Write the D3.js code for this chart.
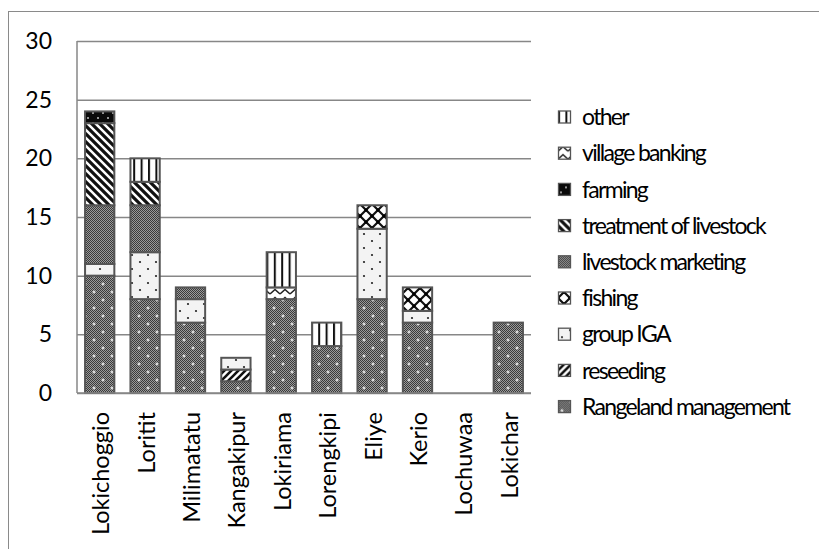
<!DOCTYPE html>
<html>
<head>
<meta charset="utf-8">
<script src="https://cdn.jsdelivr.net/npm/d3@7"></script>
<style>
  html, body { margin: 0; padding: 0; background: #fff; }
  svg { display: block; }
  text { font-family: Lato, "Liberation Sans", sans-serif; fill: #000; }
</style>
</head>
<body>
<svg id="chart" width="819" height="549"></svg>
<script>
// Locations along the x axis
const categories = ["Lokichoggio", "Loritit", "Milimatatu", "Kangakipur", "Lokiriama",
                    "Lorengkipi", "Eliye", "Kerio", "Lochuwaa", "Lokichar"];

// Number of activities per location, one array per activity type
const rangelandManagement = [10, 8, 6, 1, 8, 4, 8, 6, 0, 6];
const reseeding           = [0, 0, 0, 1, 0, 0, 0, 0, 0, 0];
const groupIGA            = [1, 4, 2, 1, 0, 0, 6, 1, 0, 0];
const fishing             = [0, 0, 0, 0, 0, 0, 2, 2, 0, 0];
const livestockMarketing  = [5, 4, 1, 0, 0, 0, 0, 0, 0, 0];
const treatmentOfLivestock= [7, 2, 0, 0, 0, 0, 0, 0, 0, 0];
const farming             = [1, 0, 0, 0, 0, 0, 0, 0, 0, 0];
const villageBanking      = [0, 0, 0, 0, 1, 0, 0, 0, 0, 0];
const other               = [0, 2, 0, 0, 3, 2, 0, 0, 0, 0];

// Stacking order, bottom to top
const seriesNames = ["Rangeland management", "reseeding", "group IGA", "fishing",
                     "livestock marketing", "treatment of livestock", "farming",
                     "village banking", "other"];
const seriesValues = [rangelandManagement, reseeding, groupIGA, fishing, livestockMarketing,
                      treatmentOfLivestock, farming, villageBanking, other];

const yTicks = [0, 5, 10, 15, 20, 25, 30];

// ---------------------------------------------------------------
const svg = d3.select("#chart");
const W = 819, H = 549;
const plot = { left: 77, right: 531, top: 41, bottom: 393 };
const outline = "#555555";
const gridColor = "#878787";

// Hatch fills
const defs = svg.append("defs");

function pattern(id, w, h) {
  return defs.append("pattern").attr("id", id)
    .attr("patternUnits", "userSpaceOnUse").attr("width", w).attr("height", h);
}

// fine 50% checker used as a grey tone
const chk = pattern("checker", 2, 2);
chk.append("rect").attr("width", 2).attr("height", 2).attr("fill", "#9a9a9a");
chk.append("rect").attr("width", 1).attr("height", 1).attr("fill", "#3a3a3a");
chk.append("rect").attr("x", 1).attr("y", 1).attr("width", 1).attr("height", 1).attr("fill", "#3a3a3a");

// Rangeland management: grey checker with white crosses
const pRM = pattern("pRM", 18, 16);
pRM.append("rect").attr("width", 18).attr("height", 16).attr("fill", "url(#checker)");
[[4, 4], [13, 12]].forEach(([x, y]) => {
  pRM.append("rect").attr("x", x - 1.5).attr("y", y - 0.5).attr("width", 3).attr("height", 1).attr("fill", "#fff");
  pRM.append("rect").attr("x", x - 0.5).attr("y", y - 1.5).attr("width", 1).attr("height", 3).attr("fill", "#fff");
});

// reseeding: wide upward diagonal
const pRS = pattern("pRS", 7, 7);
pRS.append("rect").attr("width", 7).attr("height", 7).attr("fill", "#fff");
pRS.append("path").attr("d", "M-2,9 L9,-2 M-2,2 L2,-2 M5,9 L9,5")
  .attr("stroke", "#111").attr("stroke-width", 2.6);

// group IGA: light dotted
const pIGA = pattern("pIGA", 16, 14);
pIGA.append("rect").attr("width", 16).attr("height", 14).attr("fill", "#f3f3f3");
[[4, 3], [12, 10]].forEach(([x, y]) => {
  pIGA.append("circle").attr("cx", x).attr("cy", y).attr("r", 1.1).attr("fill", "#222");
});

// fishing: diamond lattice with white rounds
const pFI = pattern("pFI", 12, 12);
pFI.append("rect").attr("width", 12).attr("height", 12).attr("fill", "#fff");
pFI.append("path").attr("d", "M0,0 L12,12 M12,0 L0,12")
  .attr("stroke", "#111").attr("stroke-width", 2.2);
[[0, 0], [12, 0], [0, 12], [12, 12], [6, 6]].forEach(([x, y]) => {
  pFI.append("circle").attr("cx", x).attr("cy", y).attr("r", 1.8).attr("fill", "#000");
});

// livestock marketing: plain grey checker
const pLM = pattern("pLM", 2, 2);
pLM.append("rect").attr("width", 2).attr("height", 2).attr("fill", "url(#checker)");

// treatment of livestock: wide downward diagonal
const pTR = pattern("pTR", 8, 8);
pTR.append("rect").attr("width", 8).attr("height", 8).attr("fill", "#fff");
pTR.append("path").attr("d", "M-2,-2 L10,10 M-2,6 L2,10 M6,-2 L10,2")
  .attr("stroke", "#111").attr("stroke-width", 3.2);

// farming: black with white dots
const pFA = pattern("pFA", 10, 10);
pFA.append("rect").attr("width", 10).attr("height", 10).attr("fill", "#0a0a0a");
[[3, 3], [8, 8]].forEach(([x, y]) => {
  pFA.append("rect").attr("x", x - 0.75).attr("y", y - 0.75).attr("width", 1.5).attr("height", 1.5).attr("fill", "#fff");
});

// village banking: zigzag
const pVB = pattern("pVB", 10, 8);
pVB.append("rect").attr("width", 10).attr("height", 8).attr("fill", "#fff");
pVB.append("path").attr("d", "M0,6 L5,1.5 L10,6").attr("fill", "none")
  .attr("stroke", "#222").attr("stroke-width", 1.6);

// other: vertical stripes
const pOT = pattern("pOT", 7.4, 10);
pOT.append("rect").attr("width", 7.4).attr("height", 10).attr("fill", "#fff");
pOT.append("rect").attr("x", 0).attr("width", 2).attr("height", 10).attr("fill", "#111");

const fills = ["url(#pRM)", "url(#pRS)", "url(#pIGA)", "url(#pFI)", "url(#pLM)",
               "url(#pTR)", "url(#pFA)", "url(#pVB)", "url(#pOT)"];

// Outer chart frame
svg.append("rect").attr("x", 8.5).attr("y", 11.5).attr("width", W + 10).attr("height", H + 10)
  .attr("fill", "none").attr("stroke", "#8a8a8a").attr("stroke-width", 1);

// Scales
const x = d3.scaleBand().domain(categories).range([plot.left, plot.right])
  .paddingInner(0.355).paddingOuter(0.1775);
const y = d3.scaleLinear().domain([0, 30]).range([plot.bottom, plot.top]);

// Gridlines + y labels
const yAxis = d3.axisLeft(y).tickValues(yTicks).tickSize(-(plot.right - plot.left)).tickPadding(25);
const gy = svg.append("g").attr("transform", `translate(${plot.left},0)`).call(yAxis);
gy.select(".domain").remove();
gy.selectAll(".tick line").attr("stroke", gridColor).attr("stroke-width", 1.5);
gy.selectAll(".tick text").attr("font-size", 23).attr("font-family", "Lato, sans-serif")
  .attr("fill", "#000");

// Stacked bars
const table = categories.map((c, i) => {
  const row = { category: c };
  seriesNames.forEach((s, k) => row[s] = seriesValues[k][i]);
  return row;
});
const stacked = d3.stack().keys(seriesNames)(table);

const layers = svg.append("g").selectAll("g").data(stacked).join("g")
  .attr("fill", (d, i) => fills[i]);
layers.selectAll("rect")
  .data(d => d.filter(p => p[1] - p[0] > 0))
  .join("rect")
  .attr("x", d => x(d.data.category))
  .attr("width", x.bandwidth())
  .attr("y", d => y(d[1]))
  .attr("height", d => y(d[0]) - y(d[1]))
  .attr("stroke", outline).attr("stroke-width", 2);

// Axis lines
const gx = svg.append("g").attr("transform", `translate(0,${plot.bottom})`)
  .call(d3.axisBottom(x).tickSize(0).tickPadding(0));
gx.select(".domain").attr("stroke", gridColor).attr("stroke-width", 1.5)
  .attr("d", `M${plot.left},0H${plot.right}`);
gx.selectAll(".tick text")
  .attr("font-size", 23.5).attr("font-family", "Lato, sans-serif").attr("fill", "#000")
  .attr("text-anchor", "end")
  .attr("transform", "translate(1,19) rotate(-90)")
  .attr("x", 0).attr("y", 0).attr("dy", "0.36em");

svg.append("line").attr("x1", plot.left).attr("x2", plot.left)
  .attr("y1", plot.top).attr("y2", plot.bottom)
  .attr("stroke", gridColor).attr("stroke-width", 1.5);

// Legend, top entry is the last stacked series
const legendItems = seriesNames.map((s, i) => ({ name: s, fill: fills[i] })).reverse();
const legend = svg.append("g").attr("transform", "translate(558,117)");
const li = legend.selectAll("g").data(legendItems).join("g")
  .attr("transform", (d, i) => `translate(0,${i * 36.2})`);
li.append("rect").attr("x", 0.5).attr("y", -6).attr("width", 12).attr("height", 12)
  .attr("fill", d => d.fill).attr("stroke", outline).attr("stroke-width", 1.3);
li.append("text").attr("x", 24).attr("y", 0).attr("dy", "0.36em")
  .attr("font-size", 23).attr("letter-spacing", "-1.7px")
  .text(d => d.name);
</script>
</body>
</html>
